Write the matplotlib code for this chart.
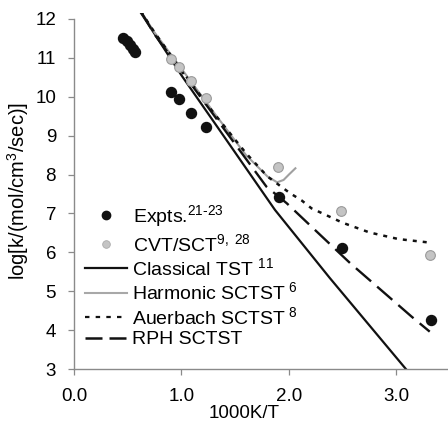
import matplotlib
matplotlib.use("Agg")
import matplotlib.pyplot as plt
from matplotlib.lines import Line2D

plt.rcParams['font.family'] = ['Liberation Sans', 'DejaVu Sans']
plt.rcParams['mathtext.fontset'] = 'custom'
plt.rcParams['mathtext.rm'] = 'Liberation Sans'
plt.rcParams['mathtext.it'] = 'Liberation Sans:italic'
plt.rcParams['mathtext.bf'] = 'Liberation Sans:bold'

# ---- data (x = 1000K/T, y = log k) ----
expt_x = [0.46, 0.49, 0.52, 0.55, 0.57, 0.90, 0.977, 1.088, 1.23, 1.905, 2.49, 3.32]
expt_y = [11.50, 11.42, 11.33, 11.22, 11.14, 10.12, 9.94, 9.58, 9.22, 7.41, 6.10, 4.26]

cvt_x = [0.90, 0.977, 1.088, 1.23, 1.90, 2.48, 3.31]
cvt_y = [10.96, 10.77, 10.41, 9.98, 8.20, 7.07, 5.93]

classical_x = [0.60, 0.645, 1.00, 1.34, 1.87, 2.38, 3.10]
classical_y = [12.25, 12.06, 10.55, 9.20, 7.09, 5.34, 2.96]

harmonic_x = [0.62, 0.75, 1.00, 1.30, 1.60, 1.80, 1.89, 1.95, 2.00, 2.06]
harmonic_y = [12.20, 11.65, 10.72, 9.60, 8.50, 7.95, 7.80, 7.86, 8.00, 8.16]

auerbach_x = [0.62, 0.75, 1.00, 1.30, 1.60, 1.80, 2.01, 2.12, 2.21, 2.32, 2.50, 2.75, 3.02, 3.31]
auerbach_y = [12.20, 11.65, 10.68, 9.58, 8.55, 7.95, 7.52, 7.33, 7.13, 6.99, 6.76, 6.51, 6.34, 6.25]

rph_x = [0.62, 0.753, 1.00, 1.34, 1.79, 1.98, 2.29, 2.57, 3.14, 3.31]
rph_y = [12.20, 11.59, 10.66, 9.38, 7.69, 7.26, 6.45, 5.72, 4.35, 3.96]

xticks = [0.0, 1.0, 2.0, 3.0]
xticklabels = ['0.0', '1.0', '2.0', '3.0']
yticks = [3, 4, 5, 6, 7, 8, 9, 10, 11, 12]

W, H = 448, 424
fig = plt.figure(figsize=(W / 100, H / 100), dpi=100)
ax = fig.add_axes([74 / W, 1 - 369 / H, (W - 74) / W, (369 - 13.1) / H])

axis_col = '#8a8a8a'
ax.plot(classical_x, classical_y, color='#111111', lw=1.6, solid_capstyle='butt')
ax.plot(harmonic_x, harmonic_y, color='#a0a0a0', lw=1.5)
ax.plot(auerbach_x, auerbach_y, color='#111111', lw=1.8, dashes=(1.6, 2.4))
ax.plot(rph_x, rph_y, color='#111111', lw=1.7, dashes=(8.5, 3.4))
ax.plot(cvt_x, cvt_y, 'o', ms=7, mfc='#c4c4c4', mec='#9a9a9a', mew=0.8, zorder=5)
ax.plot(expt_x, expt_y, 'o', ms=7.2, mfc='#111111', mec='#111111', zorder=6)

ax.set_xlim(0, 3.48)
ax.set_ylim(3, 12.15)
for s in ['top', 'right']:
    ax.spines[s].set_visible(False)
ax.spines['left'].set_bounds(3, 12)
ax.spines['left'].set_color(axis_col)
ax.spines['bottom'].set_color(axis_col)
ax.spines['left'].set_linewidth(1.0)
ax.spines['bottom'].set_linewidth(1.0)

ax.set_xticks(xticks)
ax.set_xticklabels(xticklabels)
ax.set_yticks(yticks)
ax.tick_params(axis='y', direction='out', length=4.3, width=0.9, color=axis_col,
               labelsize=13.5, pad=8.6)
ax.tick_params(axis='x', direction='out', length=4, width=0.9, color=axis_col,
               labelsize=13.5, pad=9.5)

ax.set_xlabel('1000K/T', fontsize=13.5)
ax.xaxis.set_label_coords(0.455, -0.10)
ax.xaxis.label.set_va('top')
ax.set_ylabel('log[k/(mol/cm$^3$/sec)]', fontsize=14.5)
ax.yaxis.set_label_coords(-0.115, 0.5)

fs = 14
h_expt = Line2D([], [], ls='none', marker='o', ms=6, mfc='#111111', mec='#111111')
h_cvt = Line2D([], [], ls='none', marker='o', ms=5.5, mfc='#c4c4c4', mec='#aaaaaa', mew=0.6)
leg1 = ax.legend([h_expt, h_cvt], ['Expts.$^{21\\text{-}23}$', 'CVT/SCT$^{9,\\ 28}$'],
                 loc='upper left', bbox_to_anchor=(85 / W, 1 - 203 / H),
                 bbox_transform=fig.transFigure, frameon=False, fontsize=fs,
                 handlelength=2.16, handletextpad=0.3, borderpad=0, borderaxespad=0,
                 labelspacing=0.2)
ax.add_artist(leg1)

h_cl = Line2D([], [], color='#111111', lw=1.6)
h_ha = Line2D([], [], color='#a8a8a8', lw=1.5)
h_au = Line2D([], [], color='#111111', lw=1.6, dashes=(2.0, 2.8))
h_rp = Line2D([], [], color='#111111', lw=1.8, dashes=(6.8, 2.8))
leg2 = ax.legend([h_cl, h_ha, h_au, h_rp],
                 ['Classical TST $^{11}$', 'Harmonic SCTST$^{\\ 6}$',
                  'Auerbach SCTST$^{\\ 8}$', 'RPH SCTST'],
                 loc='upper left', bbox_to_anchor=(85 / W, 1 - 257 / H),
                 bbox_transform=fig.transFigure, frameon=False, fontsize=fs,
                 handlelength=2.16, handletextpad=0.25, borderpad=0, borderaxespad=0,
                 labelspacing=0.14)

fig.savefig('out.png', dpi=100)
